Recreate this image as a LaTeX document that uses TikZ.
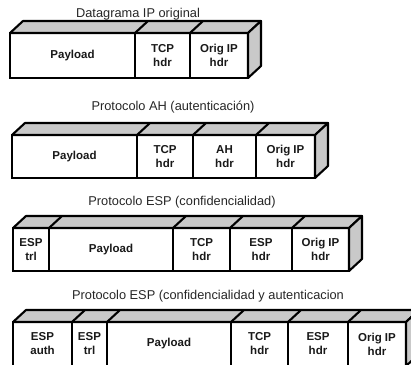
\documentclass[tikz,border=0pt]{standalone}
\usepackage{fontspec}
\setmainfont{Liberation Sans}
\tikzset{
  cell/.style={draw=black, line width=2.1pt, fill=white, rectangle, inner sep=0pt, outer sep=0pt,
    anchor=north west, align=center, font=\fontsize{11.5}{14}\selectfont\bfseries, text=black!90},
  ttl/.style={font=\fontsize{12.8}{14}\selectfont, text=black!85, inner sep=0pt},
  face/.style={draw=black, line width=2.1pt, fill=gray!42, line join=round},
  edge3d/.style={draw=black, line width=2.1pt, line cap=round}
}
\begin{document}
\begin{tikzpicture}[x=1pt,y=-1pt]
\clip (0,0) rectangle (411,364);
% ---------- row 1
\node[ttl] (t1) at (138,14) {Datagrama IP original};
\node[cell, minimum width=125pt, minimum height=45pt] (a1) at (10,33) {Payload};
\node[cell, minimum width=55pt, minimum height=45pt] (a2) at (135,33) {TCP\\hdr};
\node[cell, minimum width=58pt, minimum height=45pt] (a3) at (190,33) {Orig IP\\hdr};
\path[face] (a1.north west) -- ++(13,-12) -- ([shift={(13,-12)}]a3.north east) -- (a3.north east) -- cycle;
\path[face] (a3.north east) -- ++(13,-12) -- ([shift={(13,-12)}]a3.south east) -- (a3.south east) -- cycle;
\foreach \n in {a2,a3} \draw[edge3d] (\n.north west) -- ++(13,-12);
% ---------- row 2
\node[ttl] (t2) at (173,107) {Protocolo AH (autenticación)};
\node[cell, minimum width=125pt, minimum height=43pt] (b1) at (12,135) {Payload};
\node[cell, minimum width=56pt, minimum height=43pt] (b2) at (137,135) {TCP\\hdr};
\node[cell, minimum width=63pt, minimum height=43pt] (b3) at (193,135) {AH\\hdr};
\node[cell, minimum width=59pt, minimum height=43pt] (b4) at (256,135) {Orig IP\\hdr};
\path[face] (b1.north west) -- ++(13,-12) -- ([shift={(13,-12)}]b4.north east) -- (b4.north east) -- cycle;
\path[face] (b4.north east) -- ++(13,-12) -- ([shift={(13,-12)}]b4.south east) -- (b4.south east) -- cycle;
\foreach \n in {b2,b3,b4} \draw[edge3d] (\n.north west) -- ++(13,-12);
% ---------- row 3
\node[ttl] (t3) at (182,202) {Protocolo ESP (confidencialidad)};
\node[cell, minimum width=36pt, minimum height=43pt] (c1) at (13,228) {ESP\\trl};
\node[cell, minimum width=124pt, minimum height=43pt] (c2) at (49,228) {Payload};
\node[cell, minimum width=57pt, minimum height=43pt] (c3) at (173,228) {TCP\\hdr};
\node[cell, minimum width=62pt, minimum height=43pt] (c4) at (230,228) {ESP\\hdr};
\node[cell, minimum width=57pt, minimum height=43pt] (c5) at (292,228) {Orig IP\\hdr};
\path[face] (c1.north west) -- ++(13,-12) -- ([shift={(13,-12)}]c5.north east) -- (c5.north east) -- cycle;
\path[face] (c5.north east) -- ++(13,-12) -- ([shift={(13,-12)}]c5.south east) -- (c5.south east) -- cycle;
\foreach \n in {c2,c3,c4,c5} \draw[edge3d] (\n.north west) -- ++(13,-12);
% ---------- row 4
\node[ttl] (t4) at (208,296) {Protocolo ESP (confidencialidad y autenticacion};
\node[cell, minimum width=59pt, minimum height=44pt] (d1) at (13,322) {ESP\\auth};
\node[cell, minimum width=35pt, minimum height=44pt] (d2) at (72,322) {ESP\\trl};
\node[cell, minimum width=124pt, minimum height=44pt] (d3) at (107,322) {Payload};
\node[cell, minimum width=57pt, minimum height=44pt] (d4) at (231,322) {TCP\\hdr};
\node[cell, minimum width=60pt, minimum height=44pt] (d5) at (288,322) {ESP\\hdr};
\node[cell, minimum width=58pt, minimum height=44pt] (d6) at (348,322) {Orig IP\\hdr};
\path[face] (d1.north west) -- ++(13,-12) -- ([shift={(13,-12)}]d6.north east) -- (d6.north east) -- cycle;
\path[face] (d6.north east) -- ++(13,-12) -- ([shift={(13,-12)}]d6.south east) -- (d6.south east) -- cycle;
\foreach \n in {d2,d3,d4,d5,d6} \draw[edge3d] (\n.north west) -- ++(13,-12);
\end{tikzpicture}
\end{document}
